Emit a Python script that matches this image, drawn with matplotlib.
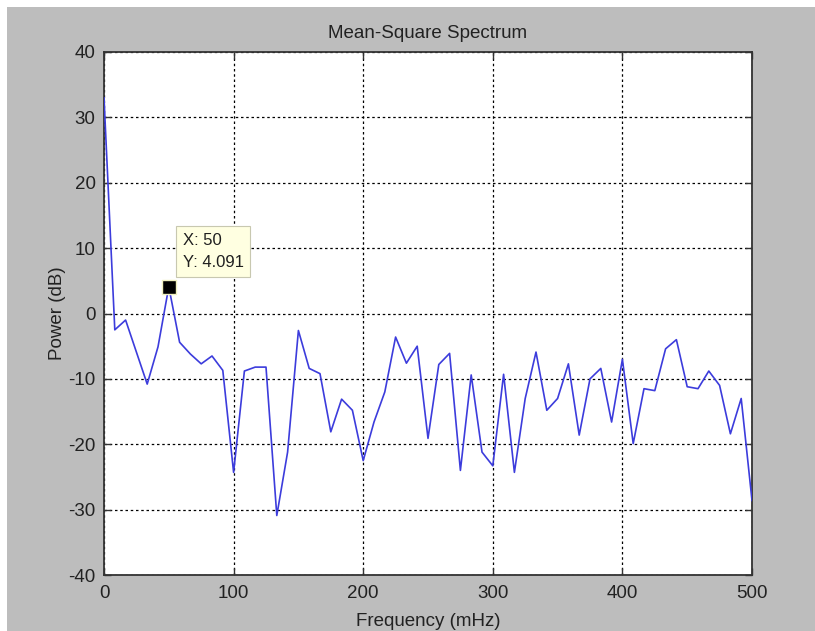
import numpy as np
import matplotlib
matplotlib.use("Agg")
import matplotlib.pyplot as plt
from matplotlib.patches import Rectangle

plt.rcParams['font.family'] = ['Liberation Sans', 'DejaVu Sans']
plt.rcParams['axes.unicode_minus'] = False

# --- data (power in dB per frequency bin) ---
power_db = [33.0, -2.5, -1.0, -5.9, -10.8, -5.1, 4.091, -4.4, -6.2, -7.7,
            -6.5, -8.7, -24.3, -8.8, -8.2, -8.2, -30.9, -21.2, -2.6, -8.4,
            -9.2, -18.1, -13.1, -14.8, -22.5, -16.6, -12.0, -3.6, -7.6, -5.0,
            -19.1, -7.8, -6.1, -24.0, -9.4, -21.2, -23.3, -9.3, -24.3, -13.0,
            -5.9, -14.8, -13.0, -7.7, -18.6, -10.0, -8.4, -16.6, -7.0, -19.9,
            -11.5, -11.8, -5.4, -4.0, -11.2, -11.5, -8.8, -11.0, -18.4, -13.0,
            -28.6]
freq_mhz = np.linspace(0, 500, len(power_db))

tip_x = 50
tip_y = 4.091

x_ticks = [0, 100, 200, 300, 400, 500]
y_ticks = [-40, -30, -20, -10, 0, 10, 20, 30, 40]

fig = plt.figure(figsize=(8.15, 6.31), dpi=100, facecolor='white')
# grey figure area with thin white margin on top/left
bg = Rectangle((7 / 815, 0), 1, 1 - 7 / 631, transform=fig.transFigure,
               facecolor='#bdbdbd', edgecolor='none', zorder=-10)
fig.patches.append(bg)

ax = fig.add_axes([104 / 815, 1 - 575 / 631, 648 / 815, 523 / 631])
ax.set_zorder(1)
ax.set_facecolor('white')

ax.plot(freq_mhz, power_db, color='#3c3cdc', linewidth=1.2, zorder=3)

# data tip
ax.plot(tip_x, tip_y, marker='s', markersize=9.5, color='black',
        markeredgecolor='#f0f0c0', markeredgewidth=1.0, zorder=5)
ax.annotate('X: %g\nY: %.3f' % (tip_x, tip_y), xy=(tip_x, tip_y),
            xytext=(10, 12), textcoords='offset points', ha='left', va='bottom',
            fontsize=12, color='#202020', linespacing=1.6, zorder=6,
            bbox=dict(boxstyle='square,pad=0.4', facecolor='#ffffe1',
                      edgecolor='#c8c8b0', linewidth=0.8))

ax.set_xlim(0, 500)
ax.set_ylim(-40, 40)
ax.set_xticks(x_ticks)
ax.set_yticks(y_ticks)

ax.grid(True, color='black', linestyle=(0, (2.0, 2.2)), linewidth=0.9)
ax.set_axisbelow(True)

ax.tick_params(direction='in', top=True, right=True, length=5, width=1,
               labelsize=13.5, labelcolor='#222222', color='#333333')
ax.tick_params(axis='x', pad=7)
ax.tick_params(axis='y', pad=6)

for sp in ax.spines.values():
    sp.set_color('#333333')
    sp.set_linewidth(1.3)

ax.set_title('Mean-Square Spectrum', fontsize=13.5, color='#222222', pad=10)
ax.set_xlabel('Frequency (mHz)', fontsize=13.5, color='#222222', labelpad=8)
ax.set_ylabel('Power (dB)', fontsize=13.5, color='#222222', labelpad=2)

fig.savefig('out.png', dpi=100, facecolor=fig.get_facecolor())
